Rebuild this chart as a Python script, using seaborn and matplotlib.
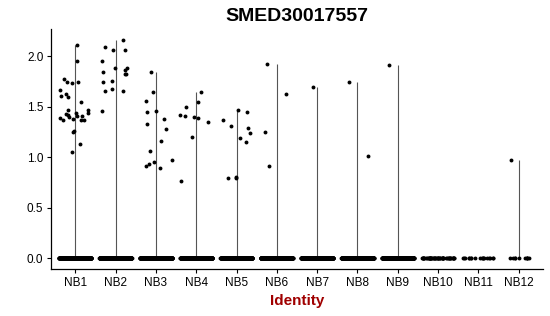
import numpy as np
import pandas as pd
import matplotlib
matplotlib.use("Agg")
import matplotlib.pyplot as plt
import seaborn as sns

categories = ["NB1", "NB2", "NB3", "NB4", "NB5", "NB6", "NB7", "NB8", "NB9", "NB10", "NB11", "NB12"]

# non-zero expression values
nb1 = [2.11, 1.41, 1.42, 1.44, 1.47, 1.44, 1.37, 1.62, 1.60, 1.38, 1.39, 1.26, 1.13, 1.59, 1.55,
       1.74, 1.66, 1.95, 1.74, 1.73, 1.47, 1.37, 1.25, 1.77, 1.41, 1.37, 1.40, 1.43, 1.05]
nb2 = [2.16, 2.06, 1.67, 1.65, 1.84, 1.86, 1.88, 1.95, 1.82, 1.75, 1.74, 1.65, 1.88, 2.09, 2.06, 1.82, 1.46]
nb3 = [1.84, 1.46, 1.28, 1.16, 1.06, 0.95, 0.89, 1.64, 1.56, 1.45, 1.38, 1.33, 0.91, 0.93, 0.97]
nb4 = [1.39, 1.35, 1.42, 1.41, 1.50, 1.55, 1.20, 1.64, 1.40, 0.76]
nb5 = [1.45, 1.37, 1.31, 1.29, 1.47, 1.24, 1.19, 1.15, 0.79, 0.79, 0.80]
nb6 = [1.92, 1.62, 1.25, 0.91]
nb7 = [1.69]
nb8 = [1.74, 1.01]
nb9 = [1.91]
nb10 = []
nb11 = []
nb12 = [0.97]
nonzero = [nb1, nb2, nb3, nb4, nb5, nb6, nb7, nb8, nb9, nb10, nb11, nb12]

# number of cells with zero expression per group (estimated)
zero_counts = [420, 400, 400, 400, 400, 340, 340, 340, 280, 50, 18, 10]

rows = []
for cat, vals, nz in zip(categories, nonzero, zero_counts):
    rows += [(cat, v) for v in vals]
    rows += [(cat, 0.0)] * nz
df = pd.DataFrame(rows, columns=["ident", "expr"])
df["ident"] = pd.Categorical(df["ident"], categories=categories, ordered=True)

sns.set_style("white")
plt.rcParams["font.family"] = ["Liberation Sans", "DejaVu Sans"]
plt.rcParams["text.color"] = "black"
plt.rcParams["axes.labelcolor"] = "black"

fig = plt.figure(figsize=(5.5, 3.16), dpi=100)
ax = fig.add_axes([51 / 550, 47 / 316, 492 / 550, 240 / 316])

# thin violin-like lines from 0 to max of each group
maxes = df.groupby("ident", observed=False)["expr"].max().reindex(categories)
ax.vlines(np.arange(len(categories)), 0, maxes.values, colors="#555555", linewidth=0.8, zorder=1)

np.random.seed(3)
sns.stripplot(data=df, x="ident", y="expr", order=categories, jitter=0.4, color="black",
              size=2.8, linewidth=0, ax=ax, zorder=3)

ax.set_xlim(-0.6, len(categories) - 0.4)
ax.set_ylim(-0.108, 2.268)
ax.set_yticks([0, 0.5, 1.0, 1.5, 2.0])
ax.set_yticklabels(["0.0", "0.5", "1.0", "1.5", "2.0"])

for side in ["top", "right"]:
    ax.spines[side].set_visible(False)
for side in ["left", "bottom"]:
    ax.spines[side].set_color("black")
    ax.spines[side].set_linewidth(0.9)

ax.tick_params(axis="both", which="major", length=3, width=0.8, color="black",
               labelsize=8.5, labelcolor="black", pad=2.5, bottom=True, left=True)

ax.set_ylabel("")
ax.set_xlabel("Identity", fontsize=11, fontweight="bold", color="#a00000", labelpad=4)
ax.set_title("SMED30017557", fontsize=14, fontweight="bold", color="black", pad=6)

fig.savefig("out.png", dpi=100)
